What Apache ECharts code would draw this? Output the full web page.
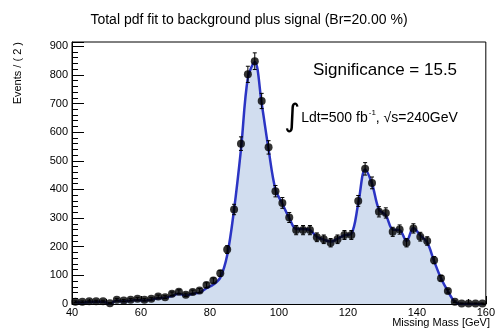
<!DOCTYPE html>
<html>
<head>
<meta charset="utf-8">
<script src="https://cdn.jsdelivr.net/npm/echarts@6/dist/echarts.min.js"></script>
<style>
html,body{margin:0;padding:0;background:#fff;}
#c{width:498px;height:332px;}
</style>
</head>
<body>
<div id="c"></div>
<script>
// Bin centres (GeV), bin width 2
const binCenters = [41,43,45,47,49,51,53,55,57,59,61,63,65,67,69,71,73,75,77,79,81,83,85,87,89,91,93,95,97,99,101,103,105,107,109,111,113,115,117,119,121,123,125,127,129,131,133,135,137,139,141,143,145,147,149,151,153,155,157,159];
// Observed events per bin
const events = [8,8,10,10,10,3,15,12,15,18,15,18,26,24,36,43,32,42,47,66,82,107,190,330,560,802,848,709,547,394,353,302,258,258,258,233,226,214,226,241,241,360,472,423,322,318,252,260,214,264,235,220,153,90,45,8,2,2,2,2];
// Total pdf fit evaluated at bin centres
const fitValues = [6,5,7,8,8,2,12,9,12,14,12,16,20,22,28,36,30,36,40,55,68,92,170,330,540,790,845,700,540,400,350,300,262,262,258,235,225,218,228,240,245,350,470,420,330,310,260,258,220,265,240,215,150,90,45,8,0,0,0,0];
const xTicks = [40,60,80,100,120,140,160];
const yTicks = [0,100,200,300,400,500,600,700,800,900];

const pts = binCenters.map((x,i)=>[x, events[i]]);
const errs = binCenters.map((x,i)=>[x, events[i], Math.sqrt(events[i])]);
const fit = binCenters.map((x,i)=>[x, fitValues[i]]);

const chart = echarts.init(document.getElementById('c'));
const font = 'Liberation Sans, Arial, Helvetica, sans-serif';
chart.setOption({
  animation:false,
  backgroundColor:'#fff',
  title:{
    text:'Total pdf fit to background plus signal (Br=20.00 %)',
    left:'center', top:8,
    textStyle:{fontFamily:font,fontSize:14,fontWeight:'normal',color:'#000'}
  },
  grid:{left:72,right:7,top:42,bottom:28,show:true,borderColor:'#000',borderWidth:1,backgroundColor:'transparent'},
  xAxis:{
    type:'value', min:xTicks[0], max:xTicks[xTicks.length-1], interval:20,
    axisLine:{lineStyle:{color:'#000',width:1}},
    axisTick:{inside:true,length:8,lineStyle:{color:'#000'}},
    minorTick:{show:true,splitNumber:4,length:5,lineStyle:{color:'#000'}},
    splitLine:{show:false},
    axisLabel:{color:'#000',fontFamily:font,fontSize:11,margin:3}
  },
  yAxis:{
    type:'value', min:0, max:915, interval:100,
    axisLine:{show:true,lineStyle:{color:'#000',width:1}},
    axisTick:{inside:true,length:12,lineStyle:{color:'#000'}},
    minorTick:{show:true,splitNumber:5,length:6,lineStyle:{color:'#000'}},
    splitLine:{show:false},
    axisLabel:{color:'#000',fontFamily:font,fontSize:11,margin:4,showMaxLabel:false}
  },
  graphic:[
    {type:'text',x:18,y:42,rotation:Math.PI/2,style:{text:'Events / ( 2 )',fontFamily:font,fontSize:11,fill:'#000',align:'right',verticalAlign:'middle'}},
    {type:'text',x:490,y:317,style:{text:'Missing Mass [GeV]',fontFamily:font,fontSize:11,fill:'#000',align:'right',verticalAlign:'top'}},
    {type:'text',x:385,y:70,style:{text:'Significance = 15.5',fontFamily:font,fontSize:17,fill:'#000',align:'center',verticalAlign:'middle'}},
    {type:'text',x:284,y:118,style:{
      text:'{i|∫}{t|Ldt=500 fb}{s|-1}{t|, √s=240GeV}',
      verticalAlign:'middle',
      rich:{
        i:{fontFamily:'DejaVu Sans',fontSize:31,fill:'#000',padding:[0,1,0,0]},
        t:{fontFamily:font,fontSize:14,fill:'#000'},
        s:{fontFamily:font,fontSize:8,fill:'#000',padding:[0,0,10,1]}
      }
    }}
  ],
  series:[
    {type:'line',data:fit,smooth:0.35,showSymbol:false,symbol:'none',
     lineStyle:{color:'#2b34c4',width:2.5},
     areaStyle:{color:'#d1ddef',opacity:1},z:2},
    {type:'custom',data:errs,z:3,
     renderItem:function(params,api){
       const x=api.value(0),y=api.value(1),e=api.value(2);
       const t=api.coord([x,y+e]),b=api.coord([x,Math.max(0,y-e)]);
       const st={stroke:'#000',lineWidth:1};
       return {type:'group',children:[
         {type:'line',shape:{x1:t[0],y1:t[1],x2:b[0],y2:b[1]},style:st},
         {type:'line',shape:{x1:t[0]-2,y1:t[1],x2:t[0]+2,y2:t[1]},style:st},
         {type:'line',shape:{x1:b[0]-2,y1:b[1],x2:b[0]+2,y2:b[1]},style:st}
       ]};
     }},
    {type:'scatter',data:pts,symbol:'circle',symbolSize:8,itemStyle:{color:'#000'},z:4}
  ]
});
</script>
</body>
</html>
